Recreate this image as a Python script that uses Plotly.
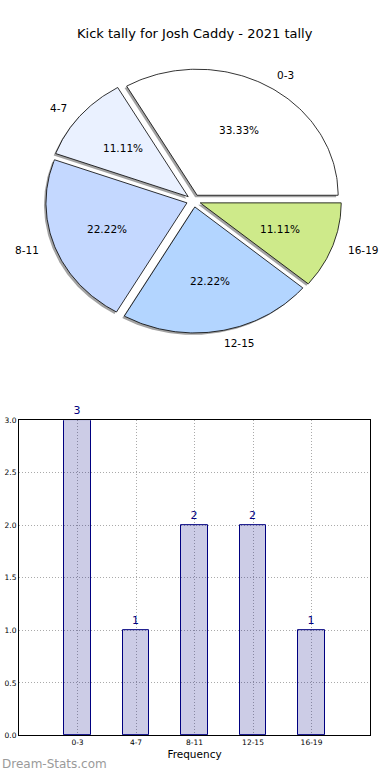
import numpy as np
import plotly.graph_objects as go

# ---- data ----
categories = ["0-3", "4-7", "8-11", "12-15", "16-19"]
counts = [3, 1, 2, 2, 1]
slice_colors = ["#FFFFFF", "#EAF1FF", "#C4D8FF", "#B3D5FF", "#CEEA8A"]
title_text = "Kick tally for Josh Caddy - 2021 tally"
y_ticks = [0.0, 0.5, 1.0, 1.5, 2.0, 2.5, 3.0]

W, H = 390, 780
FONT = "DejaVu Sans"

# pie geometry (pixel space of the pie axes)
CX, CY, RX, RY = 193.6, 199.0, 141.0, 127.5
EXPLODE = 0.05
SHADOW_DX, SHADOW_DY = -2.0, 2.0

fig = go.Figure()

total = float(sum(counts))
fracs = [c / total for c in counts]
starts = np.cumsum([0.0] + fracs[:-1]) * 360.0
ends = np.cumsum(fracs) * 360.0


def wedge(i, dx=0.0, dy=0.0):
    a0, a1 = starts[i], ends[i]
    mid = np.radians((a0 + a1) / 2.0)
    ox = CX + EXPLODE * RX * np.cos(mid) + dx
    oy = CY - EXPLODE * RY * np.sin(mid) + dy
    th = np.radians(np.linspace(a0, a1, 120))
    xs = np.concatenate([[ox], ox + RX * np.cos(th), [ox]])
    ys = np.concatenate([[oy], oy - RY * np.sin(th), [oy]])
    return xs, ys, ox, oy, mid


# shadows first (below all wedges)
for i in range(len(categories)):
    xs, ys, *_ = wedge(i, SHADOW_DX, SHADOW_DY)
    fig.add_trace(go.Scatter(x=xs, y=ys, xaxis="x2", yaxis="y2", mode="lines",
                             fill="toself", fillcolor="rgba(70,70,70,0.5)",
                             line=dict(width=0), hoverinfo="skip", showlegend=False))

annotations = []
for i, cat in enumerate(categories):
    xs, ys, ox, oy, mid = wedge(i)
    fig.add_trace(go.Scatter(x=xs, y=ys, xaxis="x2", yaxis="y2", mode="lines",
                             fill="toself", fillcolor=slice_colors[i],
                             line=dict(color="black", width=0.8),
                             name=cat, showlegend=False))
    lx = ox + 1.1 * RX * np.cos(mid)
    ly = oy - 1.1 * RY * np.sin(mid)
    annotations.append(dict(x=lx, y=ly, xref="x2", yref="y2", text=cat,
                            showarrow=False, xanchor="left" if np.cos(mid) > 0 else "right",
                            yanchor="middle", font=dict(family=FONT, size=10.5, color="black")))
    px = ox + 0.6 * RX * np.cos(mid)
    py = oy - 0.6 * RY * np.sin(mid)
    annotations.append(dict(x=px, y=py, xref="x2", yref="y2",
                            text="%.2f%%" % (fracs[i] * 100), showarrow=False,
                            xanchor="center", yanchor="middle",
                            font=dict(family=FONT, size=10.5, color="black")))

# bar chart
fig.add_trace(go.Bar(x=categories, y=counts, width=0.45,
                     marker=dict(color="rgba(0,0,128,0.2)",
                                 line=dict(color="#000080", width=1)),
                     text=[str(c) for c in counts], textposition="outside",
                     textfont=dict(family=FONT, size=11, color="#000080"),
                     cliponaxis=False, showlegend=False))

annotations.append(dict(x=195, y=30, xref="x2", yref="y2", text=title_text,
                        showarrow=False, xanchor="center", yanchor="middle",
                        font=dict(family=FONT, size=13, color="black")))
annotations.append(dict(x=0, y=0, xref="paper", yref="paper", text="Dream-Stats.com",
                        showarrow=False, xanchor="left", yanchor="bottom", yshift=2,
                        font=dict(family=FONT, size=12, color="#9a9a9a")))

GRID = dict(showgrid=True, gridcolor="#aaaaaa", griddash="1px,2px", gridwidth=1)

fig.update_layout(
    width=W, height=H, margin=dict(l=0, r=0, t=0, b=0),
    paper_bgcolor="white", plot_bgcolor="rgba(0,0,0,0)",
    annotations=annotations, bargap=0,
    xaxis=dict(domain=[19 / W, 370 / W], anchor="y", type="category",
               range=[-1, 5], showline=True, mirror=True, linecolor="black",
               linewidth=1, ticks="", tickfont=dict(family=FONT, size=7.5, color="black"),
               title=dict(text="Frequency", font=dict(family=FONT, size=10.5, color="black"),
                          standoff=4), zeroline=False, fixedrange=True, **GRID),
    yaxis=dict(domain=[40 / H, 359 / H], anchor="x", range=[0, 3],
               tickvals=y_ticks, tickformat=".1f", showline=True, mirror=True,
               linecolor="black", linewidth=1, ticks="",
               tickfont=dict(family=FONT, size=7.5, color="black"), zeroline=False,
               fixedrange=True, **GRID),
    xaxis2=dict(domain=[0, 1], anchor="y2", range=[0, W], visible=False, fixedrange=True),
    yaxis2=dict(domain=[0.5, 1], anchor="x2", range=[H / 2, 0], visible=False, fixedrange=True),
)

post = (
    "var s='margin:0;padding:0;overflow:hidden;width:390px;height:780px;';"
    "document.documentElement.style.cssText=s;document.body.style.cssText=s;"
    "var gd=document.getElementById('{plot_id}');"
    "gd.style.position='fixed';gd.style.top='0px';gd.style.left='0px';"
)
fig.write_html("out.html", config={"displayModeBar": False}, post_script=post)
